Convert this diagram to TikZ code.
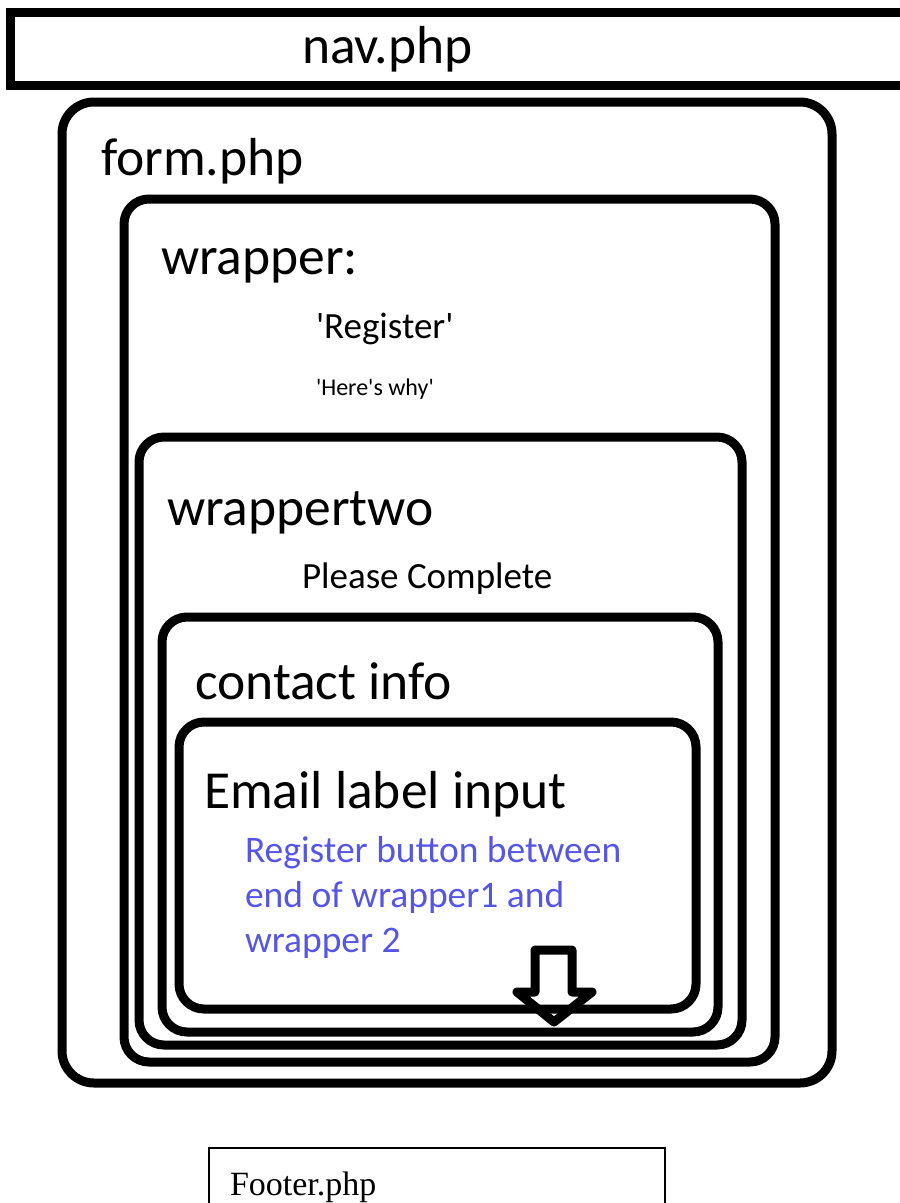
\documentclass[tikz,border=0pt]{standalone}
\usepackage{fontspec}
\setmainfont{Carlito}
\newfontfamily\footerfont{Liberation Serif}
\definecolor{notetext}{RGB}{85,85,230}
\tikzset{
    every picture/.style = {
        x = 1pt,
        y = -1pt
    },
    box/.style = {
        line width = 9pt,
        rounded corners = 25pt
    },
    navbox/.style = {
        line width = 9pt
    },
    footbox/.style = {
        line width = 2pt
    },
    downarrow/.style = {
        line width = 9pt,
        line join = round
    },
    every node/.style = {
        inner sep = 0pt,
        outer sep = 0pt,
        anchor = base west
    },
    heading/.style = {font = \fontsize{53.5}{62}\selectfont},
    subheading/.style = {font = \fontsize{37}{45}\selectfont},
    smalltext/.style = {font = \fontsize{24}{28}\selectfont},
    note/.style = {font = \fontsize{37.5}{45}\selectfont, text = notetext}
}
\newcommand{\sq}{\textquotesingle}

\begin{document}
\begin{tikzpicture}
    \useasboundingbox (0,0) rectangle (900,1203);
    \clip (0,0) rectangle (900,1203);
    % nav bar
    \draw[navbox] (10,12) rectangle (940,85);
    \node[heading] (nav) at (302,63) {nav.php};
    % nested boxes
    \draw[box, rounded corners = 32pt] (62,102) rectangle (832,1083);
    \node[heading] (form) at (101,175) {form.php};
    \draw[box] (124,199) rectangle (775,1062);
    \node[heading] (wrapper) at (161,274) {wrapper:};
    \node[subheading] (register) at (316,338) {\sq Register\sq};
    \node[smalltext] (why) at (316,395) {\sq Here\sq s why\sq};
    \draw[box] (139,437) rectangle (742,1045);
    \node[heading] (wrappertwo) at (167,525) {wrappertwo};
    \node[subheading] (complete) at (302,588) {Please Complete};
    \draw[box] (162,617) rectangle (718,1032);
    \node[heading] (contact) at (195,699) {contact info};
    \draw[box] (179,722) rectangle (696,1009);
    \node[heading] (email) at (204,808) {Email label input};
    \foreach \txt [count=\i] in {Register button between, end of wrapper1 and, wrapper 2}
        \node[note] (note\i) at (245,817+45*\i) {\txt};
    % arrow
    \draw[downarrow] (535,950) -- (572,950) -- (572,992) -- (592,992)
        -- (554,1022) -- (517,992) -- (535,992) -- cycle;
    % footer
    \draw[footbox] (209,1148) rectangle (665,1230);
    \node[font = \footerfont\fontsize{34}{40}\selectfont] (footer) at (230,1195) {Footer.php};
\end{tikzpicture}
\end{document}
